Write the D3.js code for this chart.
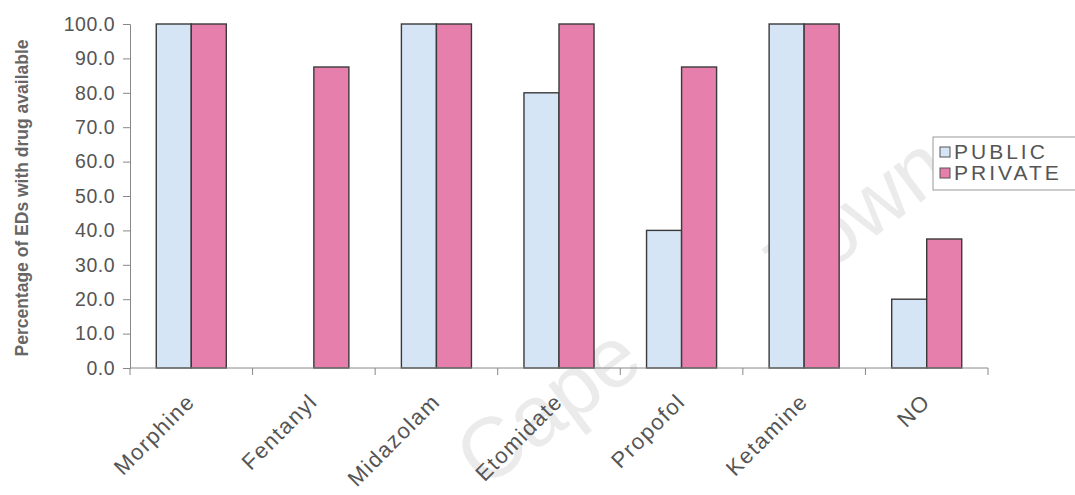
<!DOCTYPE html>
<html><head><meta charset="utf-8">
<script src="https://cdn.jsdelivr.net/npm/d3@7"></script>
<style>body{margin:0;background:#fff}svg{display:block}</style>
</head><body>
<svg id="c" width="1075" height="495"></svg>
<script>
const categories = ["Morphine","Fentanyl","Midazolam","Etomidate","Propofol","Ketamine","NO"];
const publicValues = [100, 0, 100, 80, 40, 100, 20];
const privateValues = [100, 87.5, 100, 100, 87.5, 100, 37.5];
const seriesNames = ["PUBLIC","PRIVATE"];
const yTicks = [0,10,20,30,40,50,60,70,80,90,100];
const colors = ["#d6e5f5","#e77fac"];

(function(){
const svg = d3.select("#c");
const pL = 130, pR = 988, pT = 24, pB = 368;
const FONT = "Liberation Sans, Arial, sans-serif";

// watermark
[["Cape",484,490],["Town",795,297]].forEach(w=>{
  svg.append("text").attr("transform",`translate(${w[1]},${w[2]}) rotate(-37)`)
    .attr("font-family",FONT).attr("font-size",85)
    .attr("fill","#ebebeb").text(w[0]);
});

const x = d3.scaleBand().domain(categories).range([pL,pR]).padding(0);
const xs = d3.scaleBand().domain(seriesNames).range([0,x.bandwidth()]).paddingInner(0).paddingOuter(0.75);
const y = d3.scaleLinear().domain([0,100]).range([pB,pT]);

const data = categories.map((c,i)=>({c, vals:[publicValues[i], privateValues[i]]}));
const g = svg.append("g");
data.forEach(d=>{
  d.vals.forEach((v,j)=>{
    g.append("rect").attr("x", x(d.c)+xs(seriesNames[j])).attr("y", y(v))
      .attr("width", xs.bandwidth()).attr("height", y(0)-y(v))
      .attr("fill", colors[j]).attr("stroke","#3a3a3a").attr("stroke-width",1.4);
  });
});

// y axis
const yAxis = d3.axisLeft(y).tickValues(yTicks).tickFormat(d3.format(".1f")).tickSize(7).tickPadding(8);
const ya = svg.append("g").attr("transform",`translate(${pL},0)`).call(yAxis);
ya.select(".domain").attr("stroke","#888");
ya.selectAll(".tick line").attr("stroke","#888");
ya.selectAll("text").attr("font-family",FONT).attr("font-size",19.5).attr("letter-spacing",0.5).attr("fill","#555");

// x axis
const xa = svg.append("g").attr("transform",`translate(0,${pB})`);
xa.append("line").attr("x1",pL).attr("x2",pR).attr("stroke","#888");
const bounds = categories.map(c=>x(c)).concat([pR]);
xa.selectAll("line.tk").data(bounds).enter().append("line").attr("class","tk")
  .attr("x1",d=>d).attr("x2",d=>d).attr("y1",0).attr("y2",7).attr("stroke","#888");
xa.selectAll("text").data(categories).enter().append("text")
  .attr("transform",d=>`translate(${x(d)+x.bandwidth()/2+5},${35}) rotate(-45)`)
  .attr("text-anchor","end").attr("font-family",FONT)
  .attr("font-size",22).attr("letter-spacing",1.5).attr("fill","#555").text(d=>d);

// y label
svg.append("text").attr("transform","translate(28,198) rotate(-90)").attr("text-anchor","middle")
  .attr("font-family",FONT).attr("font-size",17.5).attr("font-weight","bold")
  .attr("fill","#666").text("Percentage of EDs with drug available");

// legend
const lg = svg.append("g").attr("transform","translate(933,137)");
lg.append("rect").attr("x",0).attr("y",0).attr("width",150).attr("height",53).attr("fill","#fff").attr("stroke","#999");
seriesNames.forEach((s,i)=>{
  lg.append("rect").attr("x",7).attr("y",10+i*21).attr("width",10).attr("height",10)
    .attr("fill",colors[i]).attr("stroke","#555");
  lg.append("text").attr("x",21).attr("y",22+i*21).attr("font-family",FONT)
    .attr("font-size",21).attr("letter-spacing",3).attr("fill","#555").text(s);
});
})();
</script>
</body></html>
